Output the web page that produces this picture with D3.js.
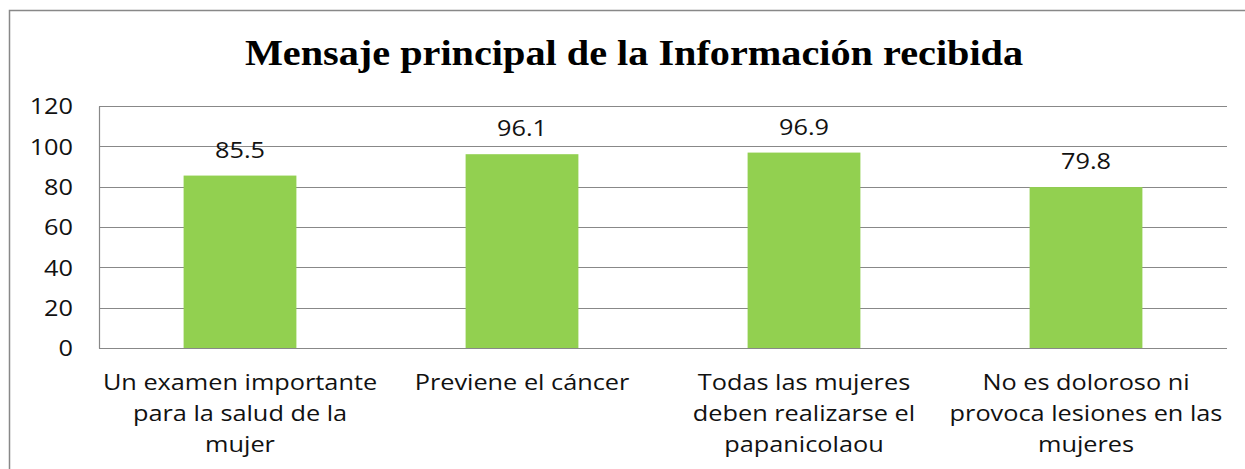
<!DOCTYPE html>
<html>
<head>
<meta charset="utf-8">
<script src="https://cdn.jsdelivr.net/npm/d3@7"></script>
<style>
  body { margin: 0; background: #fff; }
  svg { display: block; }
  .tick-y text { font-family: "Open Sans", sans-serif; font-size: 22px; fill: #111; }
  .cat { font-family: "Open Sans", sans-serif; font-size: 22px; fill: #111; }
  .lbl { font-family: "Open Sans", sans-serif; font-size: 22px; fill: #111; }
</style>
</head>
<body>
<svg width="1245" height="469"></svg>
<script>
// chart data
var title = "Mensaje principal de la Información recibida";
var categories = [
    ["Un examen importante", "para la salud de la", "mujer"],
    ["Previene el cáncer"],
    ["Todas las mujeres", "deben realizarse el", "papanicolaou"],
    ["No es doloroso ni", "provoca lesiones en las", "mujeres"]
];
var values = [85.5, 96.1, 96.9, 79.8];
var yTicks = [0, 20, 40, 60, 80, 100, 120];

// the source picture is a bit stretched sideways, so text gets widened too
var stretch = 1.15;

var svg = d3.select("svg");
var margin = { top: 106, right: 18, bottom: 121, left: 99 };
var width = 1245 - margin.left - margin.right;
var height = 469 - margin.top - margin.bottom;

// outer chart frame (only top and left show in the crop)
svg.append("path")
    .attr("d", "M9.5,469 V10.5 H1245")
    .attr("fill", "none")
    .attr("stroke", "#888")
    .attr("stroke-width", 1.5);

svg.append("text")
    .attr("transform", "translate(634,65) scale(" + stretch + ",1)")
    .attr("text-anchor", "middle")
    .style("font-family", "'Liberation Serif', 'Times New Roman', serif")
    .style("font-weight", "bold")
    .style("font-size", "35px")
    .style("fill", "#000")
    .text(title);

var x = d3.scaleBand()
    .domain(d3.range(categories.length))
    .range([0, width])
    .paddingInner(0.6)
    .paddingOuter(0.3);

var y = d3.scaleLinear().domain([0, 120]).range([height, 0]);

var g = svg.append("g")
    .attr("transform", "translate(" + margin.left + "," + margin.top + ")");

// gridlines
g.selectAll(".grid")
    .data(yTicks)
    .enter().append("line")
    .attr("x1", 0)
    .attr("x2", width)
    .attr("y1", function (d) { return Math.round(y(d)) + 0.5; })
    .attr("y2", function (d) { return Math.round(y(d)) + 0.5; })
    .attr("stroke", "#888")
    .attr("stroke-width", 1.2);

// y axis
var yAxis = g.append("g")
    .attr("class", "tick-y")
    .call(d3.axisLeft(y).tickValues(yTicks).tickSize(0).tickPadding(26 / stretch));
yAxis.select(".domain").attr("stroke", "#888").attr("stroke-width", 1.2);
yAxis.selectAll("text")
    .attr("dy", "0.35em")
    .attr("transform", "scale(" + stretch + ",1)");

g.selectAll(".bar")
    .data(values)
    .enter().append("rect")
    .attr("class", "bar")
    .attr("x", function (d, i) { return x(i); })
    .attr("y", function (d) { return y(d); })
    .attr("width", x.bandwidth())
    .attr("height", function (d) { return height - y(d); })
    .attr("fill", "#92D050");

g.selectAll(".lbl")
    .data(values)
    .enter().append("text")
    .attr("class", "lbl")
    .attr("transform", function (d, i) {
        return "translate(" + (x(i) + x.bandwidth() / 2) + "," + (y(d) - 18) + ") scale(" + stretch + ",1)";
    })
    .attr("text-anchor", "middle")
    .text(function (d) { return d.toFixed(1); });

// category labels
var cat = g.selectAll(".cat")
    .data(categories)
    .enter().append("text")
    .attr("class", "cat")
    .attr("text-anchor", "middle")
    .attr("transform", function (d, i) {
        return "translate(" + (x(i) + x.bandwidth() / 2) + "," + (height + 42) + ") scale(" + stretch + ",1)";
    });
cat.selectAll("tspan")
    .data(function (d) { return d; })
    .enter().append("tspan")
    .attr("x", 0)
    .attr("y", function (d, i) { return i * 31; })
    .text(function (d) { return d; });
</script>
</body>
</html>
